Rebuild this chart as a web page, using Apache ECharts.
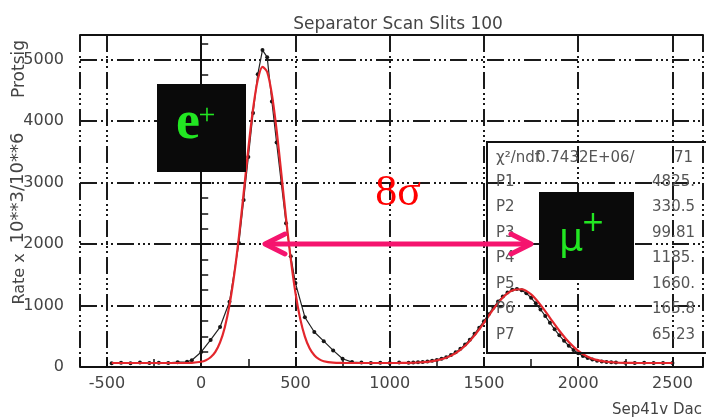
<!DOCTYPE html>
<html>
<head>
<meta charset="utf-8">
<script src="https://cdn.jsdelivr.net/npm/echarts@6/dist/echarts.min.js"></script>
<style>
  html, body { margin: 0; padding: 0; background: #fff; }
  #main { width: 706px; height: 419px; }
</style>
</head>
<body>
<div id="main"></div>
<script>
// scan points (black)
const dataX = [-475, -425, -375, -325, -275, -225, -175, -125, -75, -50, 0, 50, 100, 150, 200, 225, 250, 275, 300, 325, 350, 375, 400, 425, 450, 475, 500, 550, 600, 650, 700, 750, 800, 850, 900, 950, 1000, 1050, 1100, 1125, 1150, 1175, 1200, 1225, 1250, 1275, 1300, 1325, 1350, 1375, 1400, 1425, 1450, 1475, 1500, 1525, 1550, 1575, 1600, 1625, 1650, 1675, 1700, 1725, 1750, 1775, 1800, 1825, 1850, 1875, 1900, 1925, 1950, 1975, 2000, 2025, 2050, 2075, 2100, 2125, 2150, 2175, 2200, 2250, 2300, 2350, 2400, 2450, 2500];
const dataY = [62, 70, 60, 72, 64, 70, 66, 78, 85, 110, 245, 440, 650, 1060, 2015, 2715, 3415, 4130, 4760, 5154, 5040, 4320, 3650, 2990, 2340, 1800, 1365, 810, 570, 420, 270, 135, 80, 72, 66, 70, 64, 72, 70, 72, 76, 80, 88, 100, 115, 135, 160, 195, 240, 295, 365, 445, 540, 640, 745, 860, 965, 1065, 1145, 1210, 1255, 1270, 1250, 1200, 1125, 1035, 935, 830, 720, 612, 515, 425, 345, 278, 222, 178, 145, 120, 102, 90, 82, 76, 72, 68, 66, 70, 64, 67, 65];

// fit curve (red)
const fitX = [-475, -400, -300, -200, -100, -50, 0, 25, 50, 75, 100, 125, 150, 175, 200, 225, 250, 275, 300, 325, 350, 375, 400, 425, 450, 475, 500, 525, 550, 575, 600, 625, 650, 700, 750, 850, 950, 1050, 1100, 1150, 1200, 1250, 1300, 1350, 1400, 1450, 1500, 1550, 1600, 1650, 1700, 1750, 1800, 1850, 1900, 1950, 2000, 2050, 2100, 2150, 2200, 2250, 2300, 2400, 2500];
const fitY = [65, 65, 65, 65, 65, 68, 85, 110, 158, 247, 400, 644, 1006, 1498, 2117, 2824, 3551, 4199, 4670, 4883, 4798, 4434, 3852, 3147, 2421, 1757, 1206, 787, 495, 305, 191, 127, 94, 70, 66, 65, 65, 66, 68, 73, 84, 108, 150, 225, 345, 515, 720, 940, 1130, 1245, 1265, 1180, 1010, 800, 590, 405, 262, 165, 112, 85, 73, 68, 66, 65, 65];

const statNames = ['P1', 'P2', 'P3', 'P4', 'P5', 'P6', 'P7'];
const statValues = ['4825.', '330.5', '99.81', '1185.', '1660.', '165.8', '65.23'];

const chart = echarts.init(document.getElementById('main'));

const gridDash = [17, 4, 2, 3, 2, 3, 2, 4];
const labelFont = {color: '#444', fontSize: 16, fontFamily: 'DejaVu Sans'};
const statFont = '15px DejaVu Sans';

let graphics = [];

// stats box
graphics.push({
  type: 'rect', z: 50,
  shape: {x: 487, y: 142, width: 230, height: 211},
  style: {fill: 'none', stroke: '#111', lineWidth: 2}
});
graphics.push({type: 'text', z: 51, x: 496, y: 158,
  style: {text: 'χ²/ndf', fill: '#555', font: statFont, textVerticalAlign: 'middle'}});
graphics.push({type: 'text', z: 51, x: 536, y: 158,
  style: {text: '0.7432E+06/', fill: '#555', font: statFont, textVerticalAlign: 'middle'}});
graphics.push({type: 'text', z: 51, x: 693, y: 158,
  style: {text: '71', fill: '#555', font: statFont, textAlign: 'right', textVerticalAlign: 'middle'}});
statNames.forEach((n, i) => {
  let y = 182 + i * 25.5;
  graphics.push({type: 'text', z: 51, x: 496, y: y,
    style: {text: n, fill: '#555', font: statFont, textVerticalAlign: 'middle'}});
  graphics.push({type: 'text', z: 51, x: 695, y: y,
    style: {text: statValues[i], fill: '#555', font: statFont, textAlign: 'right', textVerticalAlign: 'middle'}});
});

// e+ box
graphics.push({type: 'rect', z: 60, shape: {x: 157, y: 84, width: 89, height: 88}, style: {fill: '#0a0a0a'}});
graphics.push({type: 'text', z: 61, x: 188, y: 124,
  style: {text: 'e', fill: '#22e622', font: 'bold 54px Liberation Serif', textAlign: 'center', textVerticalAlign: 'middle'}});
graphics.push({type: 'text', z: 61, x: 207, y: 116,
  style: {text: '+', fill: '#22e622', font: '30px Liberation Serif', textAlign: 'center', textVerticalAlign: 'middle'}});

// mu+ box
graphics.push({type: 'rect', z: 60, shape: {x: 539, y: 192, width: 95, height: 88}, style: {fill: '#0a0a0a'}});
graphics.push({type: 'text', z: 61, x: 571, y: 240,
  style: {text: 'μ', fill: '#22e622', font: '38px DejaVu Sans', textAlign: 'center', textVerticalAlign: 'middle'}});
graphics.push({type: 'text', z: 61, x: 593, y: 224,
  style: {text: '+', fill: '#22e622', font: '28px DejaVu Sans', textAlign: 'center', textVerticalAlign: 'middle'}});

// 8 sigma and arrow
graphics.push({type: 'text', z: 61, x: 398, y: 193,
  style: {text: '8σ', fill: '#ff0000', font: '44px Liberation Serif', textAlign: 'center', textVerticalAlign: 'middle'}});
const arrowColor = '#f5146e';
graphics.push({type: 'line', z: 61, shape: {x1: 265, y1: 244, x2: 530, y2: 244},
  style: {stroke: arrowColor, lineWidth: 5}});
graphics.push({type: 'polyline', z: 61, shape: {points: [[285, 234], [265, 244], [285, 254]]},
  style: {stroke: arrowColor, lineWidth: 5, fill: 'none', lineJoin: 'round', lineCap: 'round'}});
graphics.push({type: 'polyline', z: 61, shape: {points: [[511, 234], [531, 244], [511, 254]]},
  style: {stroke: arrowColor, lineWidth: 5, fill: 'none', lineJoin: 'round', lineCap: 'round'}});

// axis names (y title comes in three pieces, spaced like the original)
const yTitleParts = [['Rate x', 20, 279, 16], ['10**3/10**6', 18, 188, 18], ['Protsig', 20, 69, 17]];
yTitleParts.forEach(p => {
  graphics.push({type: 'text', z: 10, x: p[1], y: p[2], rotation: Math.PI / 2,
    style: {text: p[0], fill: '#444', font: p[3] + 'px DejaVu Sans', textAlign: 'center', textVerticalAlign: 'middle'}});
});
graphics.push({type: 'text', z: 10, x: 612, y: 410,
  style: {text: 'Sep41v Dac', fill: '#444', font: '15px DejaVu Sans', textVerticalAlign: 'middle'}});

const frameLine = {show: true, lineStyle: {color: '#111', width: 2}};

const option = {
  animation: false,
  backgroundColor: '#fff',
  title: {
    text: 'Separator Scan Slits 100',
    left: 393, top: 11, textAlign: 'center',
    textStyle: {color: '#444', fontSize: 17, fontWeight: 'normal', fontFamily: 'DejaVu Sans'}
  },
  grid: {left: 80, top: 35, right: -3, bottom: 52, show: false},
  xAxis: [
    {
      type: 'value',
      position: 'bottom',
      min: -643, max: 2662,
      splitNumber: 6,
      axisLine: frameLine,
      axisTick: {show: true, inside: true, length: 10, lineStyle: {color: '#111', width: 2}},
      minorTick: {show: true, splitNumber: 2, length: 8, lineStyle: {color: '#111', width: 1.5}},
      axisLabel: Object.assign({margin: 9, formatter: v => (v % 500 === 0 ? String(v) : '')}, labelFont),
      splitLine: {show: true, lineStyle: {color: '#1a1a1a', width: 2, type: gridDash}}
    },
    {
      // top frame only
      type: 'value',
      position: 'top',
      min: -643, max: 2662,
      axisLine: frameLine,
      axisTick: {show: false},
      axisLabel: {show: false},
      splitLine: {show: false}
    }
  ],
  yAxis: {
    type: 'value',
    min: 0, max: 5400, interval: 1000,
    axisLine: frameLine,
    axisTick: {show: true, inside: true, length: 10, lineStyle: {color: '#111', width: 2}},
    minorTick: {show: true, splitNumber: 4, length: 7, lineStyle: {color: '#111', width: 1.5}},
    axisLabel: Object.assign({margin: 16, formatter: v => (v % 1000 === 0 ? String(v) : '')}, labelFont),
    splitLine: {show: true, lineStyle: {color: '#1a1a1a', width: 2, type: gridDash}}
  },
  series: [
    {
      name: 'scan',
      type: 'line',
      data: dataX.map((x, i) => [x, dataY[i]]),
      symbol: 'circle',
      symbolSize: 4,
      z: 3,
      itemStyle: {color: '#151515'},
      lineStyle: {color: '#222', width: 1.2}
    },
    {
      name: 'fit',
      type: 'line',
      data: fitX.map((x, i) => [x, fitY[i]]),
      smooth: 0.3,
      showSymbol: false,
      z: 4,
      lineStyle: {color: '#e3262c', width: 2.2}
    }
  ],
  graphic: graphics
};

chart.setOption(option);
</script>
</body>
</html>
